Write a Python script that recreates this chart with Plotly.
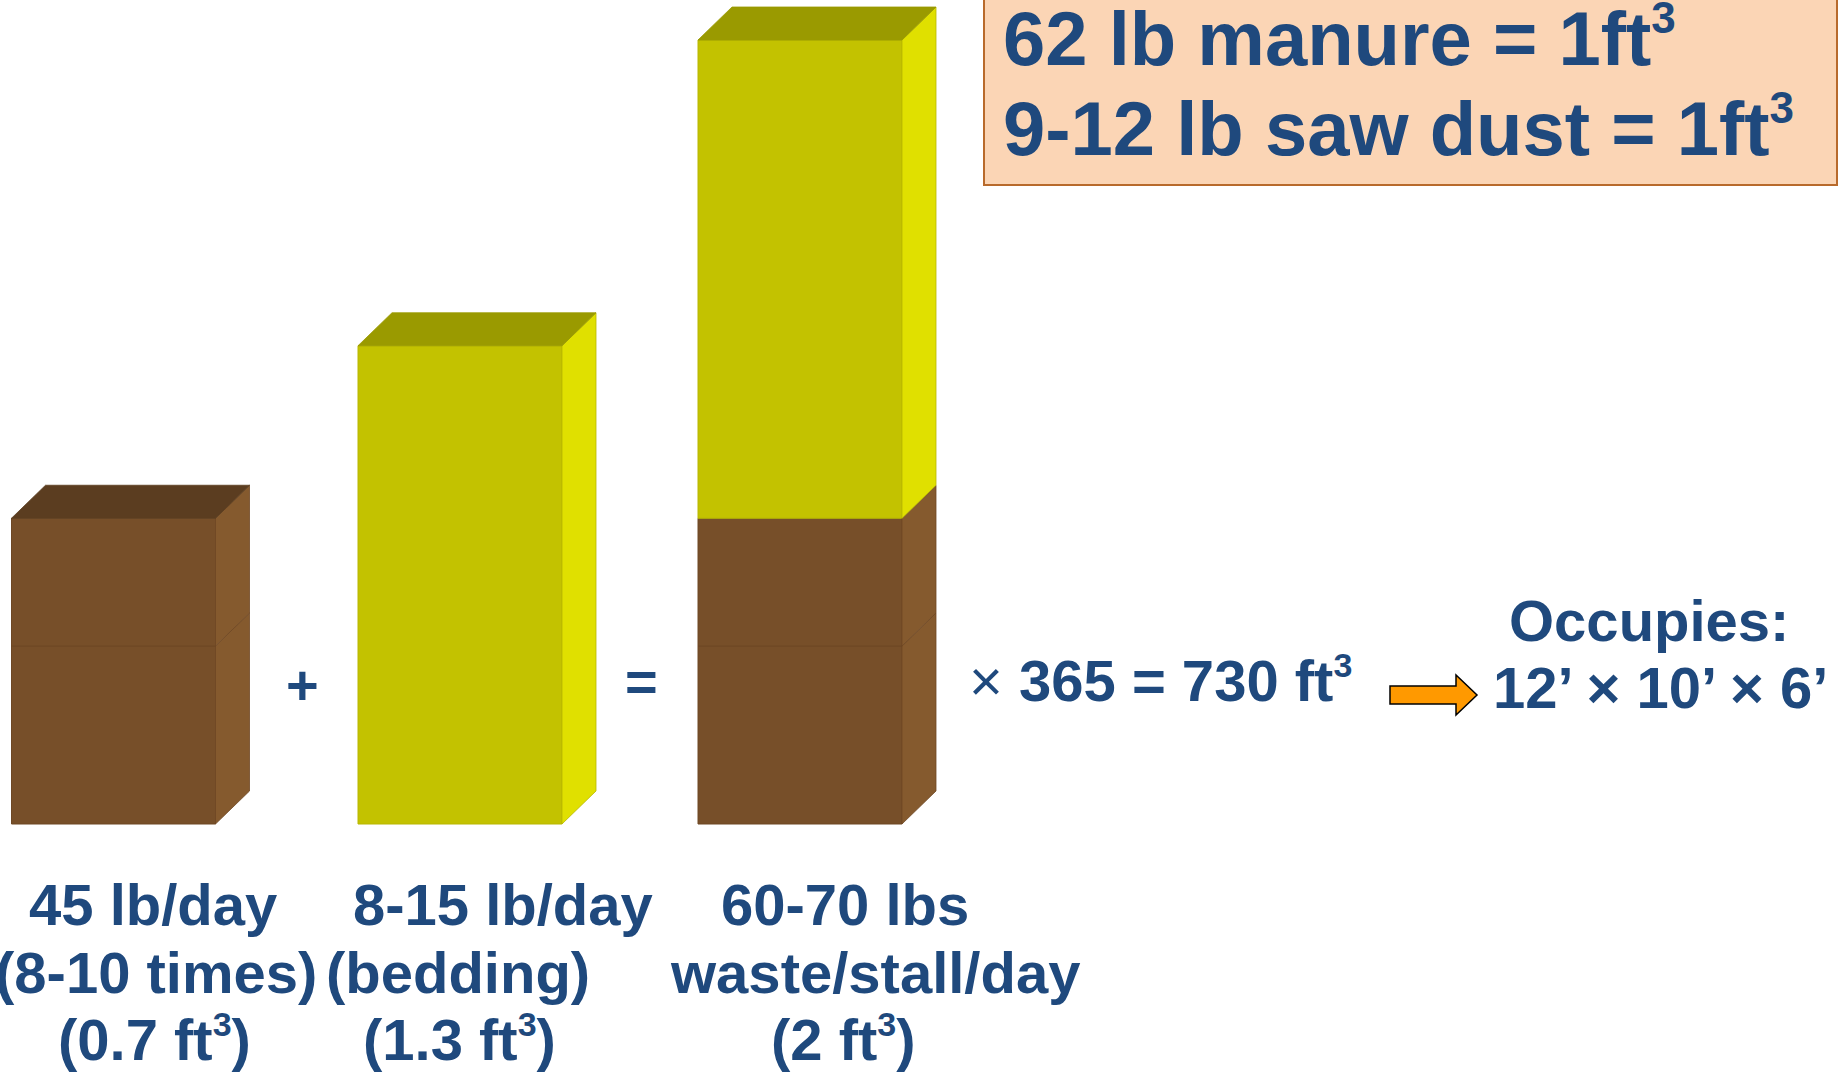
import plotly.graph_objects as go

# ---------------- data ----------------
categories = ["Manure", "Bedding", "Total waste"]
# visual heights of the stacked blocks (ft^3 scale, total column = 2 ft^3)
manure_lower = [0.454, 0.0, 0.454]
manure_upper = [0.326, 0.0, 0.326]
bedding = [0.0, 1.22, 1.22]

label_lines = [
    ["45 lb/day", "(8-10 times)", "(0.7 ft{c})"],
    ["8-15 lb/day", "(bedding)", "(1.3 ft{c})"],
    ["60-70 lbs", "waste/stall/day", "(2 ft{c})"],
]
operators = ["+", "="]
result_text = "365 = 730 ft{c}"
occupies_lines = ["Occupies:", "12’ × 10’ × 6’"]
box_lines = ["62 lb manure = 1ft{c}", "9-12 lb saw dust = 1ft{c}"]

# ---------------- layout constants ----------------
W, H = 1845, 1077
BASE_PX = 824.0        # pixel row of the zero line
PX_PER_UNIT = 392.0    # pixels per ft^3 unit
bar_centers = [113.5, 460.0, 800.0]
bar_width = 204.0
depth_x = 34.0
depth_y = 33.0 / PX_PER_UNIT

TEXT_BLUE = "#1F497D"
FONT = "Liberation Sans, Arial, sans-serif"

BROWN = dict(front="#774F29", top="#5B3D20", side="#855A2E", edge="#6E4825")
YELLOW = dict(front="#C3C200", top="#9A9A00", side="#E0E000", edge="#B8B700")


def yd(p):
    """pixel row -> y data value"""
    return (BASE_PX - p) / PX_PER_UNIT


def cube(size):
    return f'<sup><span style="font-size:{round(size * 0.58)}px">3</span></sup>'


fig = go.Figure()

segments = [(manure_lower, BROWN), (manure_upper, BROWN), (bedding, YELLOW)]
base = [0.0] * len(categories)
top_info = [None] * len(categories)
for vals, pal in segments:
    fig.add_trace(go.Bar(
        x=bar_centers,
        y=[v if v > 0 else None for v in vals],
        base=list(base),
        width=bar_width,
        marker=dict(color=pal["front"], line=dict(color=pal["edge"], width=1)),
        hoverinfo="skip",
    ))
    for i, (c, v, b) in enumerate(zip(bar_centers, vals, base)):
        if v <= 0:
            continue
        xr = c + bar_width / 2
        y0, y1 = b, b + v
        fig.add_trace(go.Scatter(
            x=[xr, xr + depth_x, xr + depth_x, xr, xr],
            y=[y0, y0 + depth_y, y1 + depth_y, y1, y0],
            fill="toself", fillcolor=pal["side"], mode="lines",
            line=dict(color=pal["edge"], width=0.8), hoverinfo="skip",
        ))
        top_info[i] = (y1, pal)
    base = [b + v for b, v in zip(base, vals)]

for c, info in zip(bar_centers, top_info):
    ytop, pal = info
    xl, xr = c - bar_width / 2, c + bar_width / 2
    fig.add_trace(go.Scatter(
        x=[xl, xl + depth_x, xr + depth_x, xr, xl],
        y=[ytop, ytop + depth_y, ytop + depth_y, ytop, ytop],
        fill="toself", fillcolor=pal["top"], mode="lines",
        line=dict(color=pal["top"], width=0.8), hoverinfo="skip",
    ))

annotations = []


def add_text(text, x, ypx, size, xanchor="center", prefix=""):
    has_sup = "{c}" in text
    body = "<b>" + text.replace("{c}", cube(size)) + "</b>"
    annotations.append(dict(
        x=x, y=yd(ypx - (0.04 * size if has_sup else 0)), xref="x", yref="y",
        text=prefix + body,
        showarrow=False, xanchor=xanchor, yanchor="middle",
        font=dict(family=FONT, size=size, color=TEXT_BLUE),
    ))


# bottom labels
label_x = [[153, 156, 154], [503, 458, 459], [845, 875, 843]]
label_y = [904, 972, 1041]
for lines, xs in zip(label_lines, label_x):
    for t, x, y in zip(lines, xs, label_y):
        add_text(t, x, y, 58)

# operators
add_text(operators[0], 302, 684, 56)
add_text(operators[1], 641, 681, 56)

# result
add_text(result_text, 967, 682, 58, xanchor="left", prefix="× ")

# occupies
add_text(occupies_lines[0], 1649, 620, 58)
add_text(occupies_lines[1], 1660, 687, 58)

# box text
add_text(box_lines[0], 1001, 40, 76, xanchor="left")
add_text(box_lines[1], 1001, 130, 76, xanchor="left")

shapes = [
    dict(type="rect", xref="x", yref="y",
         x0=984, x1=1837, y0=yd(185), y1=yd(-3),
         fillcolor="#FBD5B5", line=dict(color="#B86A2C", width=2), layer="below"),
]
# block arrow
ax = [1390, 1456, 1456, 1477, 1456, 1456, 1390]
ay = [686, 686, 675, 695, 715, 704, 704]
path = "M " + " L ".join(f"{x},{yd(y)}" for x, y in zip(ax, ay)) + " Z"
shapes.append(dict(type="path", xref="x", yref="y", path=path,
                   fillcolor="#FF9900", line=dict(color="#000000", width=1.5)))

fig.update_layout(
    width=W, height=H,
    margin=dict(l=0, r=0, t=0, b=0),
    paper_bgcolor="white", plot_bgcolor="white",
    barmode="overlay", showlegend=False, hovermode=False,
    xaxis=dict(range=[0, W], visible=False, fixedrange=True),
    yaxis=dict(range=[yd(H), yd(0)], visible=False, fixedrange=True),
    annotations=annotations, shapes=shapes,
)

fig.write_html("out.html")
